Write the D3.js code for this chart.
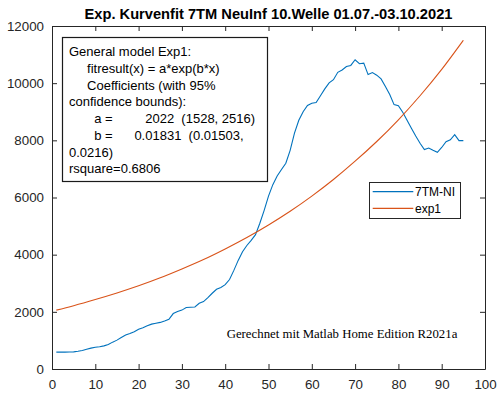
<!DOCTYPE html>
<html>
<head>
<meta charset="utf-8">
<script src="https://cdn.jsdelivr.net/npm/d3@7"></script>
<style>
  body { margin: 0; background: #fff; }
  svg { display: block; }
</style>
</head>
<body>
<div id="chart"></div>
<script>
// days 1..95, 7-day new infections
var days = d3.range(1, 96);
var cases = [
  590, 590, 590, 595, 600, 620, 650, 690, 730, 760,
  780, 810, 860, 940, 1010, 1100, 1190, 1240, 1300, 1390,
  1440, 1510, 1570, 1600, 1630, 1680, 1740, 1940, 2010, 2060,
  2150, 2160, 2170, 2300, 2360, 2500, 2650, 2790, 2850, 2950,
  3130, 3450, 3800, 4100, 4320, 4500, 4700, 5100, 5550, 6050,
  6450, 6750, 6980, 7200, 7650, 8250, 8700, 9000, 9220, 9300,
  9320, 9560, 9800, 10010, 10120, 10380, 10460, 10580, 10620, 10820,
  10680, 10700, 10300, 10370, 10280, 10150, 9880, 9600, 9250, 9210,
  8980, 8700, 8420, 8150, 7900, 7680, 7730, 7650, 7580, 7750,
  7950, 8020, 8200, 7990, 7990
];
var fitDays = [1, 5, 10, 15, 20, 25, 30, 35, 40, 45, 50, 55, 60, 65, 70, 75, 80, 85, 90, 95];
var fitValues = [2060, 2215, 2430, 2660, 2910, 3190, 3500, 3830, 4200, 4600,
                 5040, 5520, 6050, 6630, 7270, 7960, 8720, 9560, 10480, 11500];
var xTicks = [0, 10, 20, 30, 40, 50, 60, 70, 80, 90, 100];
var yTicks = [0, 2000, 4000, 6000, 8000, 10000, 12000];
var boxLines = [
  "General model Exp1:",
  "     fitresult(x) = a*exp(b*x)",
  "     Coefficients (with 95%",
  "confidence bounds):",
  "       a =         2022  (1528, 2516)",
  "       b =      0.01831  (0.01503,",
  "0.0216)",
  "rsquare=0.6806"
];
var legendItems = [
  {"text": "7TM-NI", "color": "#0072BD"},
  {"text": "exp1", "color": "#D95319"}
];

var svgWidth = 501, svgHeight = 399;
var plotLeft = 52, plotRight = 485, plotTop = 26, plotBottom = 369;
var axisColor = "#262626";
var sans = "'Liberation Sans', Arial, sans-serif";

var svg = d3.select("#chart").append("svg")
    .attr("width", svgWidth)
    .attr("height", svgHeight);

var x = d3.scaleLinear().domain([0, 100]).range([plotLeft, plotRight]);
var y = d3.scaleLinear().domain([0, 12000]).range([plotBottom, plotTop]);

// axes, ticks pointing inward like matlab
function styleAxis(g) {
    g.selectAll("path, line").attr("stroke", axisColor);
    g.selectAll("text").attr("fill", axisColor)
        .style("font-family", sans).style("font-size", "13.33px");
}
svg.append("g").attr("transform", "translate(0," + plotBottom + ")")
    .call(d3.axisBottom(x).tickValues(xTicks).tickSizeInner(-5).tickSizeOuter(0).tickPadding(11))
    .call(styleAxis);
svg.append("g").attr("transform", "translate(" + plotLeft + ",0)")
    .call(d3.axisLeft(y).tickValues(yTicks).tickFormat(d3.format("d"))
        .tickSizeInner(-5).tickSizeOuter(0).tickPadding(8))
    .call(styleAxis);
svg.append("g").attr("transform", "translate(0," + plotTop + ")")
    .call(d3.axisTop(x).tickValues(xTicks).tickSizeInner(-5).tickSizeOuter(0).tickFormat(""))
    .call(styleAxis);
svg.append("g").attr("transform", "translate(" + plotRight + ",0)")
    .call(d3.axisRight(y).tickValues(yTicks).tickSizeInner(-5).tickSizeOuter(0).tickFormat(""))
    .call(styleAxis);

// data lines
var caseLine = d3.line()
    .x(function (d, i) { return x(days[i]); })
    .y(function (d) { return y(d); });
svg.append("path")
    .attr("d", caseLine(cases))
    .attr("fill", "none")
    .attr("stroke", legendItems[0].color)
    .attr("stroke-width", 1.1);

var fitLine = d3.line()
    .x(function (d, i) { return x(fitDays[i]); })
    .y(function (d) { return y(d); })
    .curve(d3.curveNatural);
svg.append("path")
    .attr("d", fitLine(fitValues))
    .attr("fill", "none")
    .attr("stroke", legendItems[1].color)
    .attr("stroke-width", 1.1);

// title
svg.append("text")
    .attr("x", (plotLeft + plotRight) / 2)
    .attr("y", 19)
    .attr("text-anchor", "middle")
    .style("font-family", sans)
    .style("font-size", "14.67px")
    .style("font-weight", "bold")
    .text("Exp. Kurvenfit 7TM NeuInf 10.Welle 01.07.-03.10.2021");

// fit result box
var box = svg.append("g").attr("class", "fitBox");
box.append("rect")
    .attr("x", 62.5).attr("y", 37.5)
    .attr("width", 205).attr("height", 144)
    .attr("fill", "#fff")
    .attr("stroke", "#1a1a1a")
    .attr("stroke-width", 1.2);
box.selectAll("text.line")
    .data(boxLines)
    .enter().append("text")
    .attr("class", "line")
    .attr("xml:space", "preserve")
    .attr("x", 69)
    .attr("y", function (d, i) { return 56.3 + i * 16.7; })
    .style("font-family", sans)
    .style("font-size", "13px")
    .style("white-space", "pre")
    .attr("fill", "#000")
    .text(function (d) { return d; });

// legend
var legend = svg.append("g").attr("class", "legend");
legend.append("rect")
    .attr("x", 369.5).attr("y", 182.5)
    .attr("width", 91).attr("height", 36)
    .attr("fill", "#fff")
    .attr("stroke", "#262626")
    .attr("stroke-width", 1);
var item = legend.selectAll("g.item")
    .data(legendItems)
    .enter().append("g")
    .attr("class", "item")
    .attr("transform", function (d, i) { return "translate(0," + (191.7 + i * 16.6) + ")"; });
item.append("line")
    .attr("x1", 372.7).attr("x2", 413.3)
    .attr("stroke", function (d) { return d.color; })
    .attr("stroke-width", 1.2);
item.append("text")
    .attr("x", 415)
    .attr("dy", "0.35em")
    .style("font-family", sans)
    .style("font-size", "12px")
    .attr("fill", "#000")
    .text(function (d) { return d.text; });

// annotation
svg.append("text")
    .attr("x", 226.7)
    .attr("y", 337.7)
    .style("font-family", "'Liberation Serif', 'Times New Roman', serif")
    .style("font-size", "12.8px")
    .attr("fill", "#000")
    .text("Gerechnet mit Matlab Home Edition R2021a");
</script>
</body>
</html>
